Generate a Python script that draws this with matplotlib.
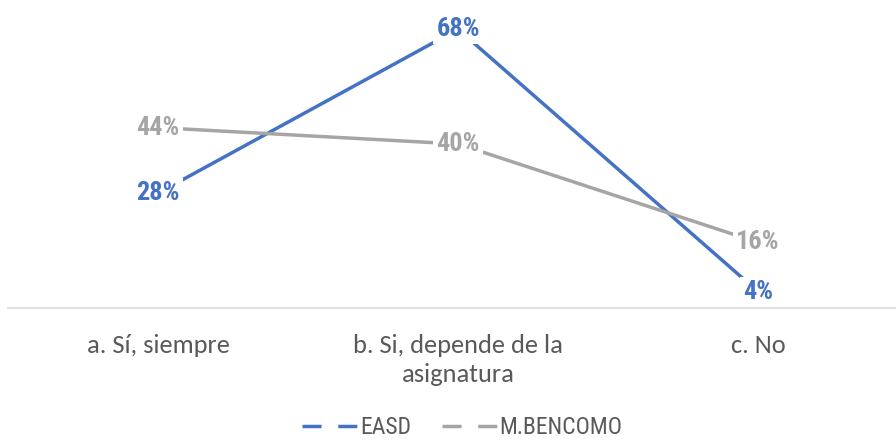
import matplotlib.pyplot as plt

categories = ["a. Sí, siempre", "b. Si, depende de la\nasignatura", "c. No"]
easd = [28, 68, 4]
bencomo = [44, 40, 16]
series_names = ["EASD", "M.BENCOMO"]

blue = "#4472C4"
gray = "#A5A5A5"
narrow = ["Roboto Condensed", "Barlow Condensed", "DejaVu Sans"]
calibri = ["Carlito", "Open Sans", "DejaVu Sans"]

fig = plt.figure(figsize=(8.96, 4.41), dpi=100)
ax = fig.add_axes([8 / 896, 1 - 308 / 441, 900 / 896, 287 / 441])

x = list(range(len(categories)))
ax.plot(x, easd, color=blue, lw=2.5, label=series_names[0], solid_capstyle="butt")
ax.plot(x, bencomo, color=gray, lw=2.5, label=series_names[1], solid_capstyle="butt")

# etiquetas de datos con fondo blanco sobre la línea
for vals, col in [(easd, blue), (bencomo, gray)]:
    for xi, v in zip(x, vals):
        ax.text(xi, v, f"{v}%", color=col, fontsize=19, fontweight="bold",
                family=narrow, ha="center", va="center", zorder=5,
                bbox=dict(facecolor="white", edgecolor="none", pad=2))

ax.set_xlim(-0.5, 2.5)
ax.set_ylim(0, 70)
ax.set_yticks([])
ax.set_xticks(x)
ax.set_xticklabels(categories, fontsize=19, color="#595959", family=calibri,
                   linespacing=1.3)
ax.tick_params(axis="x", length=0, pad=19)
for s in ["top", "right", "left"]:
    ax.spines[s].set_visible(False)
ax.spines["bottom"].set_color("#D9D9D9")
ax.spines["bottom"].set_linewidth(1.2)

# leyenda con líneas discontinuas
h1, = ax.plot([], [], color=blue, lw=2.5, ls=(0, (5.5, 4.8)))
h2, = ax.plot([], [], color=gray, lw=2.5, ls=(0, (5.5, 4.8)))
fig.legend([h1, h2], series_names, loc="center", bbox_to_anchor=(0.516, 1 - 428 / 441),
           ncol=2, frameon=False, handlelength=2.35, columnspacing=1.3,
           handletextpad=0.1, prop={"family": narrow, "size": 17},
           labelcolor="#595959")

plt.savefig("out.png", dpi=100)
